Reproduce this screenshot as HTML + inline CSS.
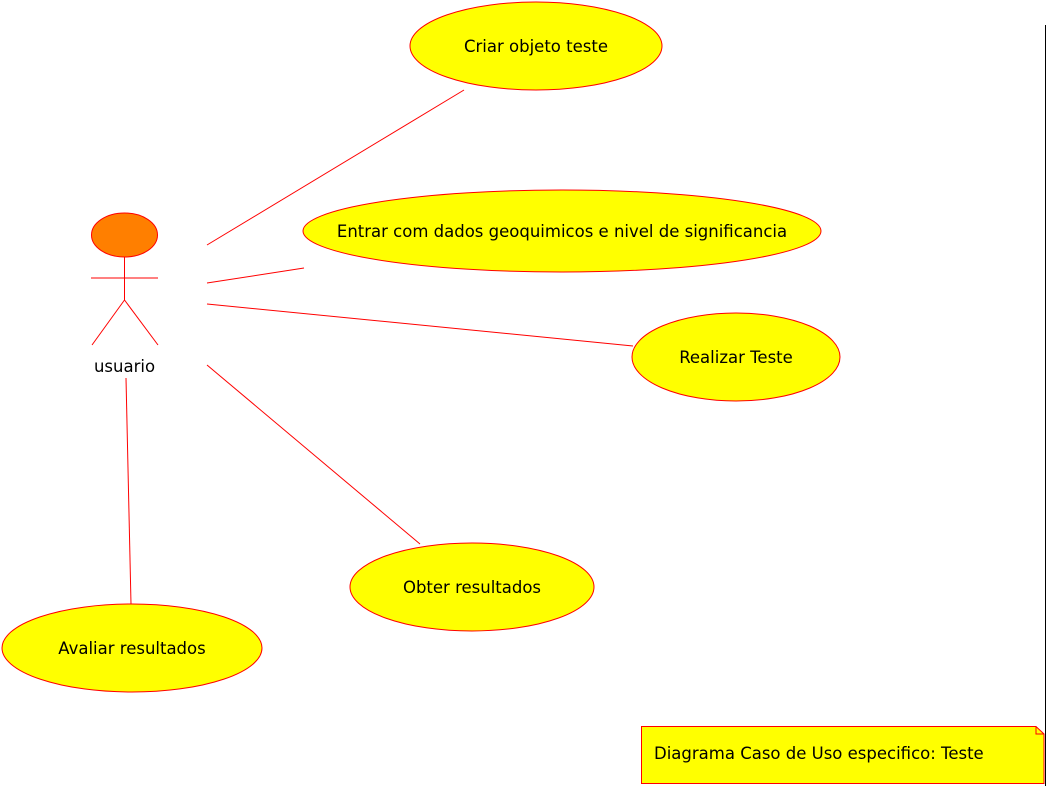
<!DOCTYPE html>
<html><head><meta charset="utf-8"><style>body{margin:0;background:#fff}svg{display:block}text{font-family:"DejaVu Sans","Liberation Sans",sans-serif;font-size:16.5px;fill:#000}</style></head>
<body>
<svg width="1047" height="786" viewBox="0 0 1047 786" xmlns="http://www.w3.org/2000/svg">
<line x1="1045.5" y1="25" x2="1045.5" y2="786" stroke="#000" stroke-width="1"/>
<g stroke="#f00" stroke-width="1" fill="none">
<line x1="207" y1="245" x2="464" y2="90"/>
<line x1="207" y1="283" x2="304" y2="268"/>
<line x1="207" y1="304" x2="633" y2="346"/>
<line x1="207" y1="365" x2="420" y2="544"/>
<line x1="126" y1="378" x2="131" y2="604"/>
</g>
<g fill="#ff0" stroke="#f00" stroke-width="1">
<ellipse cx="536" cy="46" rx="126" ry="44"/>
<ellipse cx="562" cy="231" rx="259" ry="41"/>
<ellipse cx="736" cy="357" rx="104" ry="44"/>
<ellipse cx="472" cy="587" rx="122" ry="44"/>
<ellipse cx="132" cy="648" rx="130" ry="44"/>
</g>
<ellipse cx="124.5" cy="235" rx="33" ry="22" fill="#ff7f00" stroke="#f00"/>
<g stroke="#f00" stroke-width="1">
<line x1="124.5" y1="257" x2="124.5" y2="300"/>
<line x1="91" y1="278" x2="158" y2="278"/>
<line x1="124.5" y1="300" x2="92" y2="345"/>
<line x1="124.5" y1="300" x2="158" y2="345"/>
</g>
<text x="124.5" y="372" text-anchor="middle">usuario</text>
<g text-anchor="middle">
<text x="536" y="52">Criar objeto teste</text>
<text x="562" y="237">Entrar com dados geoquimicos e nivel de significancia</text>
<text x="736" y="363">Realizar Teste</text>
<text x="472" y="593">Obter resultados</text>
<text x="132" y="654">Avaliar resultados</text>
</g>
<path d="M641.5 726.5 H1036 L1044 734 V783.5 H641.5 Z" fill="#ff0" stroke="#f00" stroke-width="1"/>
<path d="M1036 726.5 V734 H1044" fill="none" stroke="#f00" stroke-width="1"/>
<text x="654" y="759">Diagrama Caso de Uso especifico: Teste</text>
</svg>
</body></html>
